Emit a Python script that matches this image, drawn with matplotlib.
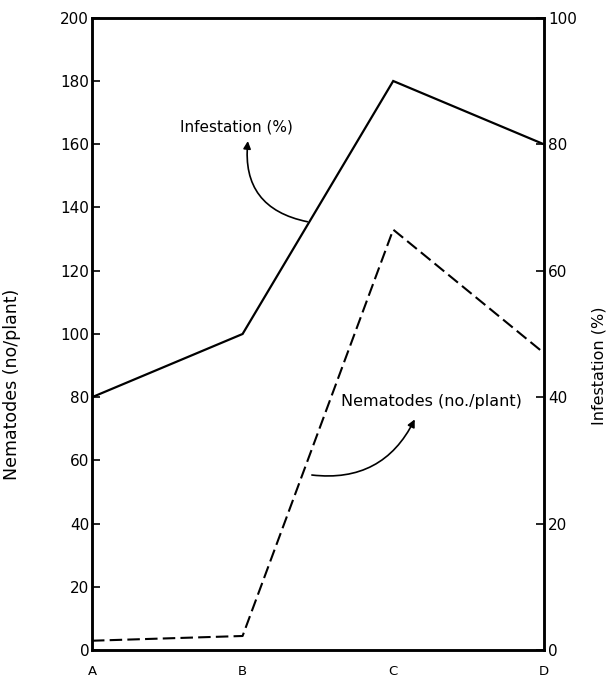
import matplotlib
matplotlib.use("Agg")
import matplotlib.pyplot as plt

# data
stages = ["A", "B", "C", "D"]
infestation_pct = [40, 50, 90, 80]
nematodes_per_plant = [3, 4.5, 133, 94]
left_ticks = [0, 20, 40, 60, 80, 100, 120, 140, 160, 180, 200]
right_ticks = [0, 20, 40, 60, 80, 100]

fig = plt.figure(figsize=(6.09, 6.83), dpi=100)
ax = fig.add_axes([0.151, 0.048, 0.742, 0.926])
ax2 = ax.twinx()

x = list(range(len(stages)))
ax2.plot(x, infestation_pct, color="black", lw=1.6, solid_joinstyle="miter")
ax.plot(x, nematodes_per_plant, color="black", lw=1.5, dashes=(6, 2.5))

ax.set_xlim(0, 3)
ax.set_ylim(0, 200)
ax2.set_ylim(0, 100)
ax.set_yticks(left_ticks)
ax2.set_yticks(right_ticks)
ax.set_xticks(x)
ax.set_xticklabels(stages, fontsize=9.5)
ax.tick_params(axis="x", length=0, pad=11)
ax.tick_params(axis="y", direction="in", length=6, width=1.2, labelsize=11, pad=2)
ax2.tick_params(axis="y", direction="in", length=6, width=1.2, labelsize=11, pad=3)

for a in (ax, ax2):
    for s in a.spines.values():
        s.set_linewidth(1.8)

ax.set_ylabel("Nematodes (no/plant)", fontsize=12.5)
ax.yaxis.set_label_coords(-0.158, 0.42)
ax2.set_ylabel("Infestation (%)", fontsize=11.5)
ax2.yaxis.set_label_coords(1.105, 0.45)

# callouts
ax.text(0.962, 165.5, "Infestation (%)", fontsize=11, ha="center", va="center")
ax.annotate("", xy=(1.035, 161.0), xytext=(1.43, 135.5),
            arrowprops=dict(arrowstyle="-|>", color="black", lw=1.2,
                            mutation_scale=11, shrinkA=0, shrinkB=0,
                            connectionstyle="arc3,rad=-0.45"))
ax.text(2.256, 78.5, "Nematodes (no./plant)", fontsize=11.5, ha="center", va="center")
ax.annotate("", xy=(2.143, 73.0), xytext=(1.46, 55.4),
            arrowprops=dict(arrowstyle="-|>", color="black", lw=1.2,
                            mutation_scale=11, shrinkA=0, shrinkB=0,
                            connectionstyle="arc3,rad=0.35"))

fig.savefig("out.png", dpi=100)
